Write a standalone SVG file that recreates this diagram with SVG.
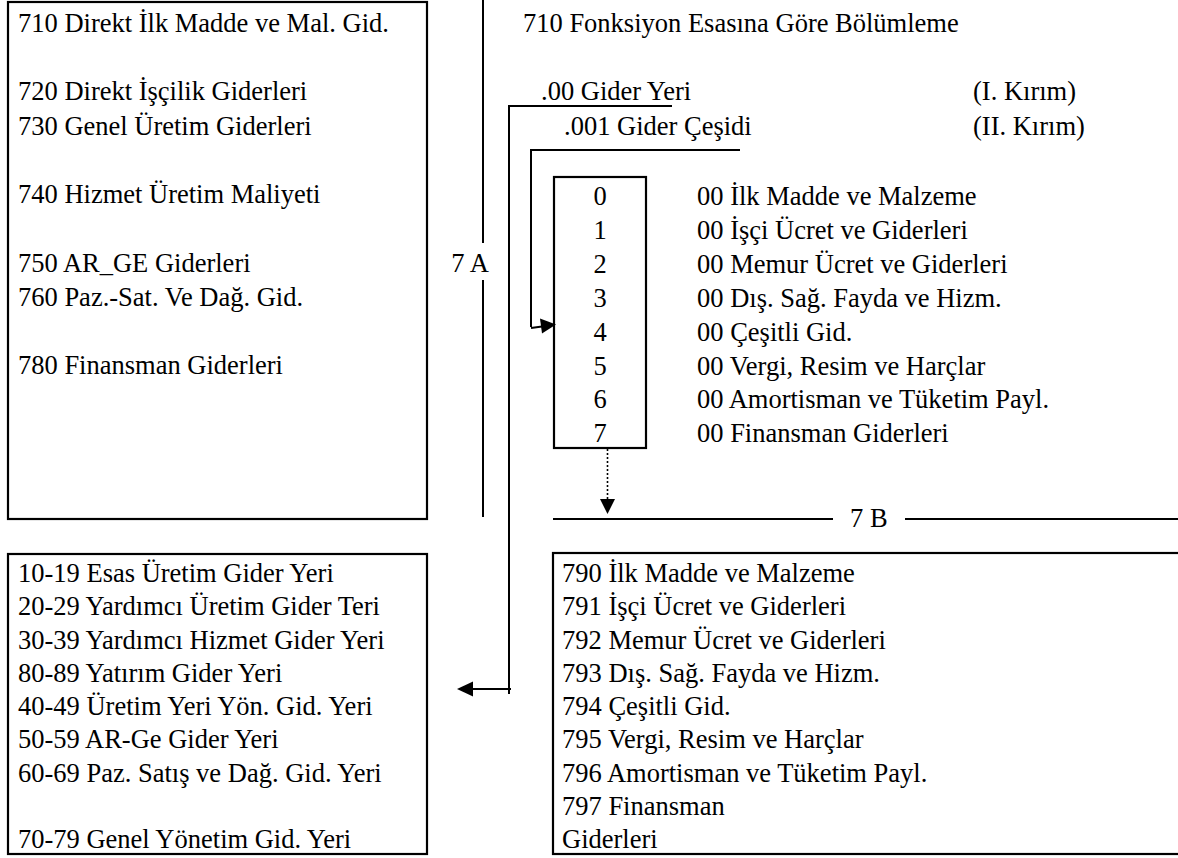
<svg xmlns="http://www.w3.org/2000/svg" width="1178" height="858" viewBox="0 0 1178 858">
<defs>
<style>
text{font-family:"Liberation Serif","Times New Roman",serif;font-size:26.5px;fill:#000}
.box{fill:none;stroke:#000;stroke-width:2.2}
.ln{fill:none;stroke:#000;stroke-width:2}
.dot{fill:none;stroke:#000;stroke-width:1.6;stroke-dasharray:2 2}
.ah{fill:#000;stroke:none}
.mid{text-anchor:middle}
</style>
</defs>
<rect width="1178" height="858" fill="#fff"/>

<g id="box-710">
<rect class="box" x="8" y="2" width="419" height="517"/>
<text x="18" y="32">710 Direkt İlk Madde ve Mal. Gid.</text>
<text x="18" y="100">720 Direkt İşçilik Giderleri</text>
<text x="18" y="135">730 Genel Üretim Giderleri</text>
<text x="18" y="203">740 Hizmet Üretim Maliyeti</text>
<text x="18" y="272">750 AR_GE Giderleri</text>
<text x="18" y="306">760 Paz.-Sat. Ve Dağ. Gid.</text>
<text x="18" y="374">780 Finansman Giderleri</text>
</g>

<g id="label-7A">
<text class="mid" x="470" y="272">7 A</text>
</g>

<g id="header">
<text x="523" y="32">710 Fonksiyon Esasına Göre Bölümleme</text>
<text x="541" y="100">.00 Gider Yeri</text>
<text x="973" y="100">(I. Kırım)</text>
<text x="564" y="135">.001 Gider Çeşidi</text>
<text x="973" y="135">(II. Kırım)</text>
</g>

<g id="box-codes">
<rect class="box" x="554" y="177" width="92" height="271"/>
<text class="mid" x="600" y="205">0</text>
<text class="mid" x="600" y="239">1</text>
<text class="mid" x="600" y="273">2</text>
<text class="mid" x="600" y="307">3</text>
<text class="mid" x="600" y="341">4</text>
<text class="mid" x="600" y="375">5</text>
<text class="mid" x="600" y="408">6</text>
<text class="mid" x="600" y="442">7</text>
</g>

<g id="codes-list">
<text x="697" y="205">00 İlk Madde ve Malzeme</text>
<text x="697" y="239">00 İşçi Ücret ve Giderleri</text>
<text x="697" y="273">00 Memur Ücret ve Giderleri</text>
<text x="697" y="307">00 Dış. Sağ. Fayda ve Hizm.</text>
<text x="697" y="341">00 Çeşitli Gid.</text>
<text x="697" y="375">00 Vergi, Resim ve Harçlar</text>
<text x="697" y="408">00 Amortisman ve Tüketim Payl.</text>
<text x="697" y="442">00 Finansman Giderleri</text>
</g>

<g id="label-7B">
<text x="850" y="527">7 B</text>
</g>

<g id="box-gider-yeri">
<rect class="box" x="8" y="554" width="419" height="300"/>
<text x="18" y="582">10-19 Esas Üretim Gider Yeri</text>
<text x="18" y="615">20-29 Yardımcı Üretim Gider Teri</text>
<text x="18" y="649">30-39 Yardımcı Hizmet Gider Yeri</text>
<text x="18" y="682">80-89 Yatırım Gider Yeri</text>
<text x="18" y="715">40-49 Üretim Yeri Yön. Gid. Yeri</text>
<text x="18" y="748">50-59 AR-Ge Gider Yeri</text>
<text x="18" y="782">60-69 Paz. Satış ve Dağ. Gid. Yeri</text>
<text x="18" y="848">70-79 Genel Yönetim Gid. Yeri</text>
</g>

<g id="box-79x">
<rect class="box" x="553" y="553" width="640" height="301"/>
<text x="562" y="582">790 İlk Madde ve Malzeme</text>
<text x="562" y="615">791 İşçi Ücret ve Giderleri</text>
<text x="562" y="649">792 Memur Ücret ve Giderleri</text>
<text x="562" y="682">793 Dış. Sağ. Fayda ve Hizm.</text>
<text x="562" y="715">794 Çeşitli Gid.</text>
<text x="562" y="748">795 Vergi, Resim ve Harçlar</text>
<text x="562" y="782">796 Amortisman ve Tüketim Payl.</text>
<text x="562" y="815">797 Finansman</text>
<text x="562" y="848">Giderleri</text>
</g>

<g id="connectors">
<!-- 7A divider -->
<line class="ln" x1="483" y1="0" x2="483" y2="243"/>
<line class="ln" x1="483" y1="280" x2="483" y2="517"/>
<!-- .00 Gider Yeri bracket to left box -->
<polyline class="ln" points="672,106 509,106 509,694"/>
<line class="ln" x1="511" y1="689" x2="472" y2="689"/>
<polygon class="ah" points="457,689 473,681.5 473,696.5"/>
<!-- .001 Gider Cesidi bracket to code box -->
<polyline class="ln" points="740,150 531,150 531,327"/>
<line class="ln" x1="531" y1="328" x2="542" y2="326.5"/>
<polygon class="ah" points="556,324.5 540,318.5 542,333.5"/>
<!-- dotted down arrow -->
<line class="dot" x1="607.5" y1="449" x2="607.5" y2="500"/>
<polygon class="ah" points="600,499 615,499 607.5,514"/>
<!-- 7B line -->
<line class="ln" x1="553" y1="519" x2="833" y2="519"/>
<line class="ln" x1="905" y1="519" x2="1178" y2="519"/>
</g>
</svg>
